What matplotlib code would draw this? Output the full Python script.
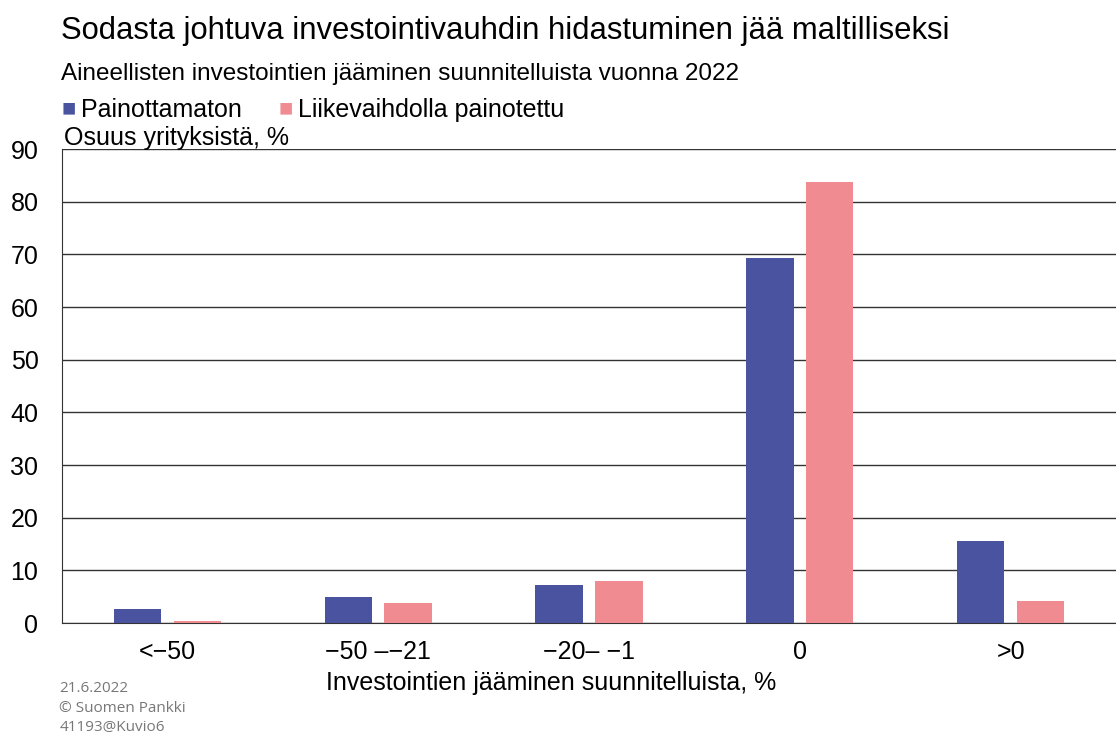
import matplotlib
matplotlib.use("Agg")
import matplotlib.pyplot as plt
import numpy as np

plt.rcParams['font.family'] = ['Liberation Sans', 'DejaVu Sans']

# luokat ja arvot (luettu kuvasta)
luokat = ["<\u221250", "\u221250 \u2013\u221221", "\u221220\u2013 \u22121", "0", ">0"]
painottamaton = [2.7, 4.9, 7.2, 69.4, 15.6]
liikevaihdolla = [0.4, 3.8, 8.0, 83.7, 4.2]

sininen = "#4a53a0"
pinkki = "#f08b92"

fig = plt.figure(figsize=(11.16, 7.36), dpi=100)
ax = fig.add_axes([0.0556, 0.1535, 0.9444, 0.644])

x = np.arange(len(luokat))
lev = 0.225
ax.bar(x - 0.142, painottamaton, width=lev, color=sininen, zorder=3)
ax.bar(x + 0.142, liikevaihdolla, width=lev, color=pinkki, zorder=3)

ax.set_xlim(-0.5, len(luokat) - 0.5)
ax.set_ylim(0, 90)
ax.set_yticks(range(0, 91, 10))
ax.yaxis.grid(True, color="#333333", linewidth=1.0, zorder=0)
ax.set_axisbelow(True)
for s in ["top", "right"]:
    ax.spines[s].set_visible(False)
ax.spines["left"].set_color("#333333")
ax.spines["bottom"].set_color("#333333")
ax.tick_params(length=0, labelsize=18, colors="black")
ax.tick_params(axis="y", pad=17)
ax.tick_params(axis="x", pad=12)
ax.set_xticks(x)
ax.set_xticklabels(luokat)

# akselin otsikko hieman vasemmalle kuten alkuperäisessä
fig.text(0.494, 0.072, "Investointien jääminen suunnitelluista, %", fontsize=18,
         ha="center", va="center")

fig.text(0.055, 0.958, "Sodasta johtuva investointivauhdin hidastuminen jää maltilliseksi",
         fontsize=22.3, va="center")
fig.text(0.055, 0.9, "Aineellisten investointien jääminen suunnitelluista vuonna 2022",
         fontsize=17.5, va="center")

# selite
fig.text(0.055, 0.851, "\u25a0", color=sininen, fontsize=17, va="center")
fig.text(0.073, 0.851, "Painottamaton", fontsize=18, va="center")
fig.text(0.25, 0.851, "\u25a0", color=pinkki, fontsize=17, va="center")
fig.text(0.267, 0.851, "Liikevaihdolla painotettu", fontsize=18, va="center")
fig.text(0.057, 0.812, "Osuus yrityksistä, %", fontsize=18, va="center")

fontti = ["Open Sans", "DejaVu Sans"]
fig.text(0.053, 0.065, "21.6.2022", fontsize=11, color="#777777", family=fontti, va="center")
fig.text(0.053, 0.038, "\u00a9 Suomen Pankki", fontsize=11, color="#777777", family=fontti, va="center")
fig.text(0.053, 0.011, "41193@Kuvio6", fontsize=11, color="#777777", family=fontti, va="center")

fig.savefig("out.png", dpi=100)
